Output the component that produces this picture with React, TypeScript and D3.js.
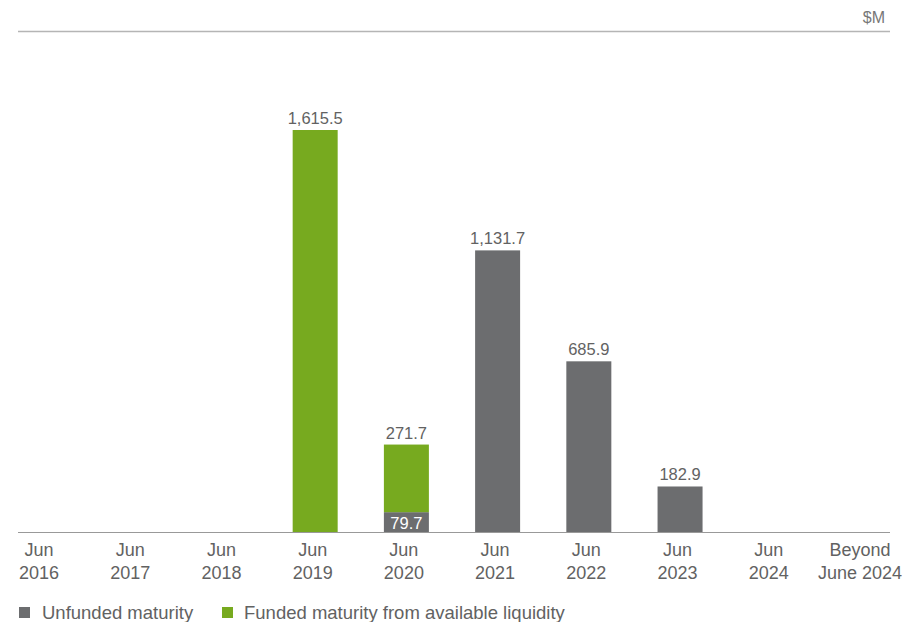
import React from "react";
import * as d3 from "d3";

const categories = ["Jun 2016", "Jun 2017", "Jun 2018", "Jun 2019", "Jun 2020", "Jun 2021", "Jun 2022", "Jun 2023", "Jun 2024", "Beyond June 2024"];
const tickLines = [["Jun", "2016"], ["Jun", "2017"], ["Jun", "2018"], ["Jun", "2019"], ["Jun", "2020"], ["Jun", "2021"], ["Jun", "2022"], ["Jun", "2023"], ["Jun", "2024"], ["Beyond", "June 2024"]];
const unfunded = [0, 0, 0, 0, 79.7, 1131.7, 685.9, 182.9, 0, 0];
const funded = [0, 0, 0, 1615.5, 271.7, 0, 0, 0, 0, 0];
const seriesNames = ["Unfunded maturity", "Funded maturity from available liquidity"];
const unitLabel = "$M";

const GRAY = "#6c6d6f";
const GREEN = "#77aa1f";
const TEXT = "#626262";
const FONT = "'Liberation Sans', Arial, sans-serif";

export default function App() {
  const W = 911, H = 622;
  const baseY = 532;
  const x = d3.scalePoint<string>().domain(categories).range([39, 860]);
  const y = d3.scaleLinear().domain([0, 1615.5]).range([baseY, 130]);
  const bw = 45;
  const barShift = 2.5;
  const fmt = d3.format(",.1f");

  const data = categories.map((c, i) => ({ c, u: unfunded[i], f: funded[i] }));
  const stack = d3.stack<any>().keys(["u", "f"])(data as any);

  return (
    <svg width={W} height={H} style={{ position: "absolute", left: 0, top: 0, fontFamily: FONT }}>
      <rect width={W} height={H} fill="#fff" />
      <text x={885} y={23} textAnchor="end" fontSize={16} fill="#777">{unitLabel}</text>
      <line x1={18} x2={890} y1={31.5} y2={31.5} stroke="#b5b5b5" strokeWidth={1.5} />
      {stack.map((layer, li) =>
        layer.map((d, i) => {
          const v = d[1] - d[0];
          if (v <= 0) return null;
          const cx = x(categories[i])! + barShift;
          return (
            <rect key={li + "-" + i} x={cx - bw / 2} width={bw} y={y(d[1])} height={y(d[0]) - y(d[1])} fill={li === 0 ? GRAY : GREEN} />
          );
        })
      )}
      <line x1={18} x2={890} y1={baseY + 0.5} y2={baseY + 0.5} stroke="#999" strokeWidth={1} />
      {data.map((d, i) => {
        const cx = x(d.c)! + barShift;
        const top = d.u + d.f;
        if (top <= 0) return null;
        const labelVal = d.f > 0 ? d.f : d.u;
        return (
          <g key={"l" + i}>
            <text x={cx} y={y(top) - 6} textAnchor="middle" fontSize={16.5} fill={TEXT}>{fmt(labelVal)}</text>
            {d.f > 0 && d.u > 0 && (
              <text x={cx} y={baseY - 3} textAnchor="middle" fontSize={16.5} fill="#fff">{fmt(d.u)}</text>
            )}
          </g>
        );
      })}
      {tickLines.map((t, i) => (
        <text key={"t" + i} x={x(categories[i])!} textAnchor="middle" fontSize={18} fill={TEXT}>
          <tspan x={x(categories[i])!} y={556}>{t[0]}</tspan>
          <tspan x={x(categories[i])!} y={579}>{t[1]}</tspan>
        </text>
      ))}
      <rect x={19} y={607} width={11} height={11} fill={GRAY} />
      <text x={42} y={619} fontSize={18.5} fill={TEXT}>{seriesNames[0]}</text>
      <rect x={222} y={607} width={11} height={11} fill={GREEN} />
      <text x={244} y={619} fontSize={18.5} fill={TEXT}>{seriesNames[1]}</text>
    </svg>
  );
}
